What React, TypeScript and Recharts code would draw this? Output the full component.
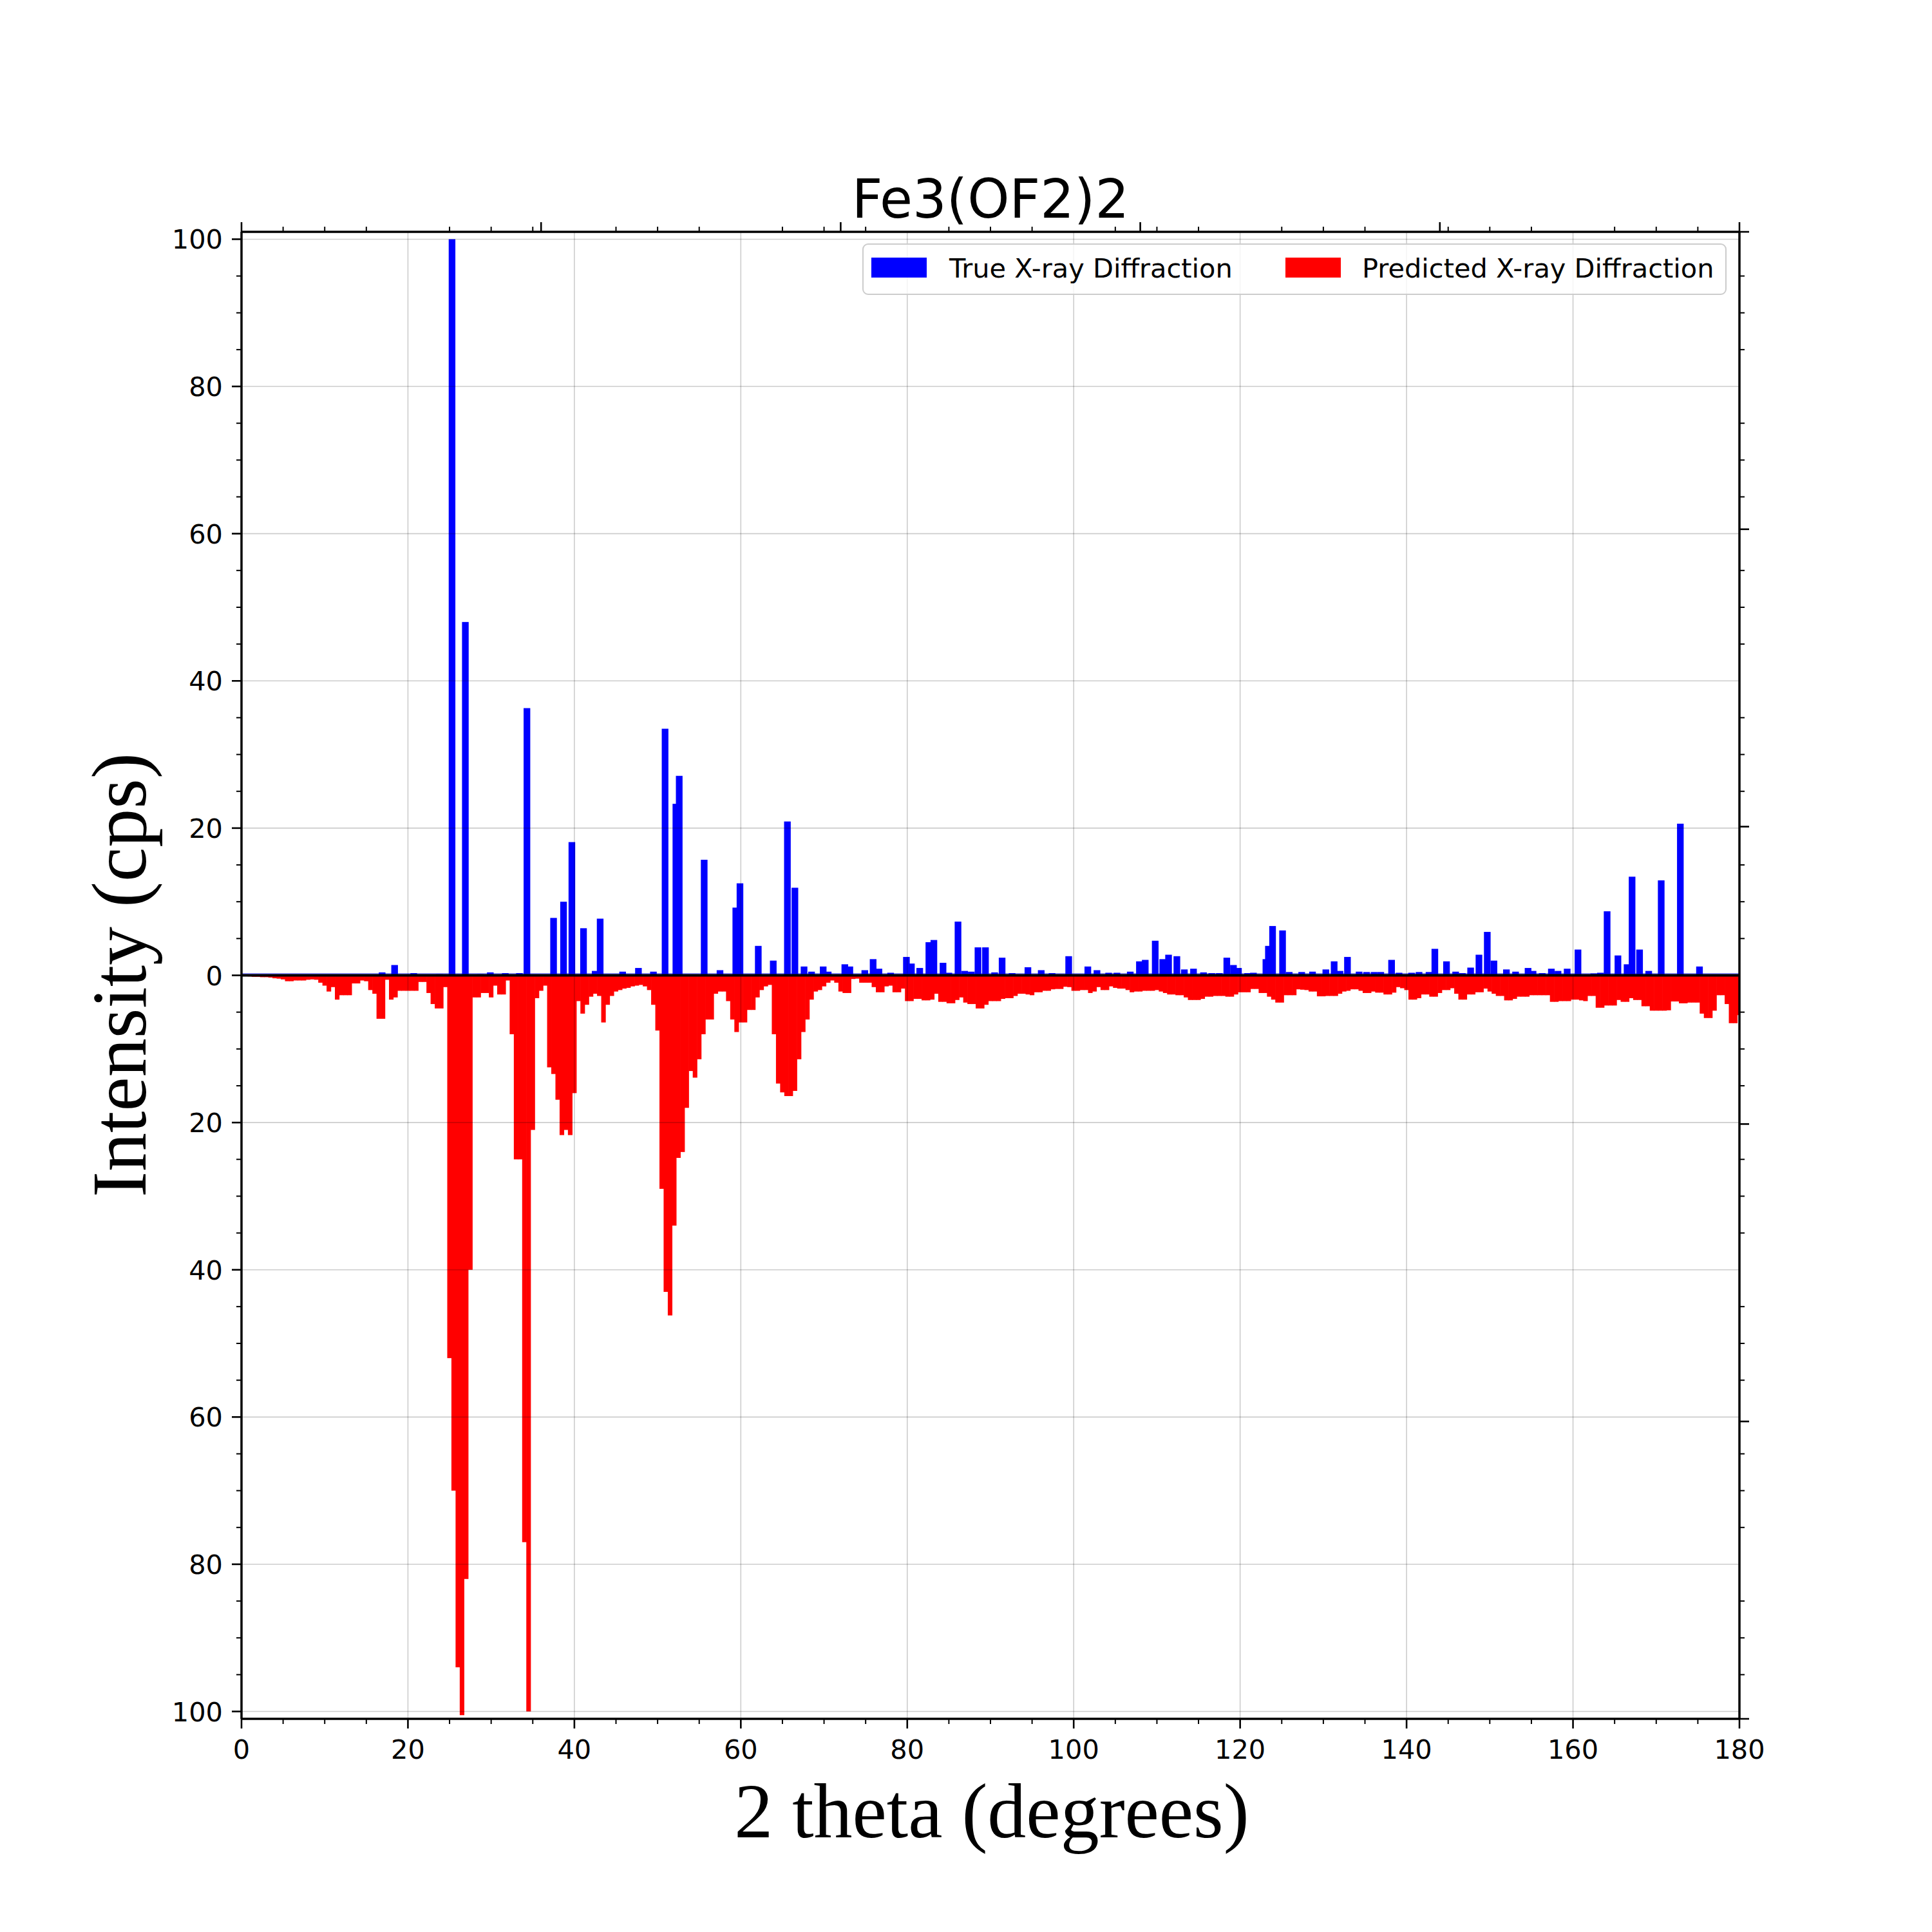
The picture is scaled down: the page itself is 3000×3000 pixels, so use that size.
import React from "react";
import { BarChart, Bar, XAxis, YAxis, ReferenceLine } from "recharts";

// predicted pattern, read every 0.5 degree from 0 to 180 (drawn downwards)
const predictedStart = 0;
const predictedStep = 0.5;
const predicted = [
  0.1, 0.1, 0.15, 0.2, 0.2, 0.25, 0.25, 0.3, 0.4, 0.45, // 0
  0.55, 0.8, 0.8, 0.7, 0.7, 0.7, 0.6, 0.55, 0.6, 1.0, // 5
  1.4, 2.2, 1.6, 3.3, 2.7, 2.7, 2.7, 1.1, 1.1, 0.7, // 10
  0.8, 2.0, 2.5, 5.9, 5.9, 0.6, 3.3, 3.0, 2.1, 2.1, // 15
  2.1, 2.1, 2.1, 0.9, 0.9, 2.4, 3.9, 4.5, 4.5, 1.6, // 20
  52, 70, 94, 100.5, 82, 40, 3.0, 3.0, 2.4, 2.4, // 25
  3.0, 1.4, 2.6, 2.6, 0.7, 8, 25, 25, 77, 100, // 30
  21, 3.1, 2.1, 1.4, 12.5, 13.4, 16.9, 21.7, 21, 21.7, // 35
  16, 3.5, 5.2, 4, 2.9, 2.5, 2.8, 6.4, 4.0, 2.8, // 40
  2.2, 2.0, 1.8, 1.7, 1.5, 1.4, 1.3, 1.5, 2.0, 4.0, // 45
  7.5, 29, 43, 46.2, 34, 24.8, 24, 18, 13, 13.9, // 50
  11.4, 8, 6, 6, 2.5, 2.2, 2.2, 3.5, 6, 7.7, // 55
  6.4, 6.4, 4.7, 4.7, 3.0, 2.0, 1.5, 1.3, 8, 14.7, // 60
  15.9, 16.4, 16.4, 15.7, 11.4, 7.7, 6, 3.3, 2.2, 2.0, // 65
  1.5, 1.0, 0.7, 1.0, 2.2, 2.4, 2.4, 0.5, 0.45, 1.0, // 70
  1.0, 1.0, 1.6, 2.3, 2.3, 1.5, 1.4, 2.3, 2.3, 1.8, // 75
  3.5, 3.5, 3.2, 3.2, 3.4, 3.4, 3.3, 2.5, 3.6, 3.6, // 80
  3.8, 3.8, 3.35, 3.0, 3.7, 3.9, 3.9, 4.5, 4.5, 4.0, // 85
  3.5, 3.5, 3.5, 3.2, 3.1, 3.1, 2.8, 2.5, 2.5, 2.6, // 90
  2.7, 2.3, 2.3, 2.1, 2.1, 1.9, 1.85, 1.85, 1.55, 1.6, // 95
  2.1, 2.1, 2.0, 2.0, 2.4, 2.2, 1.6, 2.0, 2.0, 1.5, // 100
  1.7, 1.8, 1.8, 2.0, 2.3, 2.2, 2.2, 2.1, 2.1, 2.1, // 105
  2.0, 2.2, 2.4, 2.6, 2.6, 2.7, 2.7, 3.0, 3.35, 3.35, // 110
  3.35, 3.2, 2.9, 2.9, 2.8, 2.8, 2.8, 2.9, 2.9, 2.6, // 115
  2.3, 2.3, 2.3, 1.85, 1.85, 2.4, 2.4, 2.9, 3.3, 3.7, // 120
  3.7, 2.7, 2.7, 2.7, 1.9, 1.95, 2.0, 2.2, 2.2, 2.85, // 125
  2.85, 2.8, 2.8, 2.8, 2.5, 2.2, 2.1, 1.9, 1.9, 2.1, // 130
  2.4, 2.4, 2.2, 2.35, 2.35, 2.6, 2.6, 2.35, 1.6, 1.75, // 135
  2.0, 3.3, 3.3, 3.1, 2.6, 2.6, 2.9, 2.9, 2.4, 2.0, // 140
  2.0, 1.75, 2.5, 3.3, 3.3, 2.6, 2.6, 2.3, 2.3, 1.8, // 145
  2.2, 2.5, 2.8, 2.8, 3.4, 3.4, 3.2, 2.9, 2.9, 2.9, // 150
  2.7, 2.7, 2.7, 2.7, 2.7, 3.6, 3.6, 3.5, 3.5, 3.5, // 155
  3.3, 3.3, 3.4, 3.5, 2.8, 2.8, 4.4, 4.4, 4.1, 4.1, // 160
  4.1, 3.35, 3.6, 3.6, 3.1, 3.35, 3.35, 4.2, 4.2, 4.8, // 165
  4.8, 4.8, 4.8, 4.75, 3.55, 3.55, 3.8, 3.8, 3.7, 3.7, // 170
  3.7, 5.2, 5.8, 5.8, 4.8, 2.7, 2.7, 3.9, 6.5, 6.5, // 175
  5.4, // 180
];

// measured peaks (2 theta, intensity)
const trueAngles = [
  16.9, 18.4, 19.3, 20.7, 23.8, 25.3, 26.9, 28.7, 29.9, 31.7,
  33.4, 34.3, 37.5, 38.7, 39.7, 41.1, 42.5, 43.1, 45.8, 47.7,
  49.5, 50.9, 52.2, 52.6, 55.6, 57.5, 59.4, 59.9, 62.1, 63.9,
  65.6, 66.5, 67.6, 68.5, 69.9, 70.5, 72.5, 73.1, 74.9, 75.9,
  76.6, 78.0, 79.9, 80.5, 81.5, 82.6, 83.2, 84.3, 85.0, 86.1,
  86.9, 87.7, 88.5, 89.4, 90.5, 91.4, 92.6, 94.5, 96.1, 97.4,
  99.4, 101.7, 102.8, 104.2, 105.2, 106.8, 107.9, 108.6, 109.8, 110.7,
  111.4, 112.4, 113.3, 114.4, 115.6, 116.6, 117.5, 118.4, 119.2, 119.8,
  120.9, 121.6, 123.1, 123.4, 123.9, 125.1, 125.9, 127.4, 128.7, 130.3,
  131.3, 132.0, 132.9, 134.3, 135.2, 136.1, 136.9, 138.2, 139.1, 140.6,
  141.5, 142.7, 143.4, 144.8, 145.9, 146.7, 147.7, 148.7, 149.7, 150.5,
  152.0, 153.1, 154.6, 155.2, 156.3, 157.4, 158.2, 159.3, 160.6, 162.5,
  163.3, 164.1, 165.4, 166.5, 167.1, 168.0, 169.1, 170.6, 172.9, 175.2,
];
const trueIntensity = [
  0.4, 1.4, 0.1, 0.3, 0.15, 100, 48.0, 0.15, 0.4, 0.3,
  0.3, 36.3, 7.8, 10.0, 18.1, 6.4, 0.6, 7.7, 0.5, 1.0,
  0.5, 33.5, 23.3, 27.1, 15.7, 0.7, 9.2, 12.5, 4.0, 2.0,
  20.9, 11.9, 1.2, 0.5, 1.2, 0.5, 1.5, 1.2, 0.7, 2.2,
  0.9, 0.35, 2.5, 1.6, 1.0, 4.5, 4.8, 1.7, 0.35, 7.3,
  0.6, 0.5, 3.8, 3.8, 0.4, 2.4, 0.3, 1.1, 0.7, 0.3,
  2.6, 1.2, 0.7, 0.35, 0.35, 0.5, 1.9, 2.1, 4.7, 2.2,
  2.8, 2.6, 0.8, 0.9, 0.4, 0.3, 0.3, 2.4, 1.4, 1.0,
  0.3, 0.35, 2.2, 4.0, 6.7, 6.1, 0.45, 0.45, 0.5, 0.8,
  1.9, 0.6, 2.5, 0.5, 0.45, 0.45, 0.45, 2.1, 0.35, 0.35,
  0.45, 0.45, 3.6, 1.9, 0.5, 0.3, 1.05, 2.8, 5.9, 2.0,
  0.8, 0.5, 1.0, 0.6, 0.3, 0.9, 0.6, 0.9, 3.5, 0.25,
  0.35, 8.7, 2.7, 1.5, 13.4, 3.5, 0.6, 12.9, 20.6, 1.2,
];

const xMajorTicks = [0, 20, 40, 60, 80, 100, 120, 140, 160, 180];
const yMajorTicks = [-100, -80, -60, -40, -20, 0, 20, 40, 60, 80, 100];
// secondary (twin) axis ticks seen on the top and right spines
const topTwinTicks = [0, 36, 72, 108, 144, 180];
const rightTwinTicks = [-101, -60.6, -20.2, 20.2, 60.6, 101];

const W = 3000;
const H = 3000;
// plot box: left 375, right 2701, top 360, bottom 2669 (axes take 1px each)
const M = { top: 359, right: 298, bottom: 330, left: 374 };
const PX_PER_DEG = (2701 - 375) / 180;
const FONT = "DejaVu Sans";
const SERIF = "Liberation Serif, Times New Roman, serif";
const TICK_FS = 41.5;

const fives = (lo: number, hi: number) => {
  const out: number[] = [];
  for (let v = lo; v <= hi; v += 5) out.push(v);
  return out;
};
const xMinor = fives(0, 180).filter((v) => v % 20 !== 0);
const yMinor = fives(-100, 100).filter((v) => v % 20 !== 0);
const bottomTicks = [...xMajorTicks, ...xMinor].sort((a, b) => a - b);
const leftTicks = [...yMajorTicks, ...yMinor].sort((a, b) => a - b);
const topTicks = Array.from(new Set([...topTwinTicks, ...xMinor])).sort((a, b) => a - b);
const rightTicks = [...rightTwinTicks, ...yMinor].sort((a, b) => a - b);

// rows keyed by angle (0.1 degree) holding both series
const rowMap = new Map<number, { x: number; pred?: number; obs?: number }>();
const rowAt = (x: number) => {
  const k = Math.round(x * 10);
  if (!rowMap.has(k)) rowMap.set(k, { x: k / 10 });
  return rowMap.get(k)!;
};
predicted.forEach((v, i) => {
  rowAt(predictedStart + i * predictedStep).pred = -v;
});
trueAngles.forEach((a, i) => {
  rowAt(a).obs = trueIntensity[i];
});
const data = Array.from(rowMap.values()).sort((a, b) => a.x - b.x);

const makeShape = (degWidth: number, color: string) => (p: any) => {
  const { x, y, width, height } = p;
  if (height == null || Math.abs(height) < 0.01 || x == null) return <g />;
  const cx = x + width / 2;
  const w = PX_PER_DEG * degWidth;
  const top = Math.min(y, y + height);
  return <rect x={cx - w / 2} y={top} width={w} height={Math.abs(height)} fill={color} />;
};
const redShape = makeShape(0.5 + 0.05, "#ff0000");
const blueShape = makeShape(0.8, "#0000ff");

const BottomTick = ({ x, y, payload }: any) => {
  const v = payload.value;
  const major = xMajorTicks.includes(v);
  return (
    <g>
      <line x1={x} x2={x} y1={y} y2={y + (major ? 15 : 8)} stroke="#000" strokeWidth={major ? 2.6 : 2} />
      {major && (
        <text x={x} y={y + 62} textAnchor="middle" fontSize={TICK_FS} fontFamily={FONT} fill="#000">
          {v}
        </text>
      )}
    </g>
  );
};

const LeftTick = ({ x, y, payload }: any) => {
  const v = payload.value;
  const major = yMajorTicks.includes(v);
  return (
    <g>
      <line x1={x} x2={x - (major ? 15 : 8)} y1={y} y2={y} stroke="#000" strokeWidth={major ? 2.6 : 2} />
      {major && (
        <text x={x - 29} y={y + 15} textAnchor="end" fontSize={TICK_FS} fontFamily={FONT} fill="#000">
          {Math.abs(v)}
        </text>
      )}
    </g>
  );
};

const TopTick = ({ x, y, payload }: any) => {
  const major = topTwinTicks.includes(payload.value);
  return <line x1={x} x2={x} y1={y} y2={y - (major ? 15 : 8)} stroke="#000" strokeWidth={major ? 2.6 : 2} />;
};

const RightTick = ({ x, y, payload }: any) => {
  const major = rightTwinTicks.includes(payload.value);
  return <line x1={x} x2={x + (major ? 15 : 8)} y1={y} y2={y} stroke="#000" strokeWidth={major ? 2.6 : 2} />;
};

const spine = { stroke: "#000", strokeWidth: 3.5 };
const gridX = [20, 40, 60, 80, 100, 120, 140, 160];
const gridY = [-100, -80, -60, -40, -20, 20, 40, 60, 80, 100];

export default function App() {
  return (
    <div style={{ position: "absolute", left: 0, top: 0, width: W, height: H, background: "#fff" }}>
      <BarChart width={W} height={H} data={data} margin={M} stackOffset="sign">
        <XAxis
          xAxisId="x"
          dataKey="x"
          type="number"
          domain={[0, 180]}
          allowDataOverflow
          ticks={bottomTicks}
          interval={0}
          height={1}
          tickSize={0}
          tickMargin={0}
          tickLine={false}
          axisLine={spine}
          tick={<BottomTick />}
        />
        <XAxis
          xAxisId="top"
          dataKey="x"
          orientation="top"
          type="number"
          domain={[0, 180]}
          allowDataOverflow
          ticks={topTicks}
          interval={0}
          height={1}
          tickSize={0}
          tickMargin={0}
          tickLine={false}
          axisLine={spine}
          tick={<TopTick />}
        />
        <YAxis
          yAxisId="y"
          type="number"
          domain={[-101, 101]}
          allowDataOverflow
          ticks={leftTicks}
          interval={0}
          width={1}
          tickSize={0}
          tickMargin={0}
          tickLine={false}
          axisLine={spine}
          tick={<LeftTick />}
        />
        <YAxis
          yAxisId="right"
          orientation="right"
          type="number"
          domain={[-101, 101]}
          allowDataOverflow
          ticks={rightTicks}
          interval={0}
          width={1}
          tickSize={0}
          tickMargin={0}
          tickLine={false}
          axisLine={spine}
          tick={<RightTick />}
        />
        <Bar
          xAxisId="x"
          yAxisId="y"
          dataKey="pred"
          stackId="s"
          fill="#ff0000"
          shape={redShape}
          isAnimationActive={false}
        />
        <Bar
          xAxisId="x"
          yAxisId="y"
          dataKey="obs"
          stackId="s"
          fill="#0000ff"
          shape={blueShape}
          isAnimationActive={false}
        />
        {gridX.map((v) => (
          <ReferenceLine key={"gx" + v} xAxisId="x" yAxisId="y" x={v} stroke="#000" strokeOpacity={0.2} strokeWidth={1.6} />
        ))}
        {gridY.map((v) => (
          <ReferenceLine key={"gy" + v} xAxisId="x" yAxisId="y" y={v} stroke="#000" strokeOpacity={0.2} strokeWidth={1.6} />
        ))}
        <ReferenceLine xAxisId="x" yAxisId="y" y={0.22} stroke="#0000ff" strokeOpacity={0.6} strokeWidth={1.3} />
        <ReferenceLine xAxisId="x" yAxisId="y" y={0} stroke="#000" strokeWidth={4} />
      </BarChart>
      <svg width={W} height={H} style={{ position: "absolute", left: 0, top: 0, pointerEvents: "none" }}>
        <text x={1538} y={338} textAnchor="middle" fontSize={83} fontFamily={FONT} fill="#000">
          Fe3(OF2)2
        </text>
        <text x={1540} y={2853} textAnchor="middle" fontSize={120} fontFamily={SERIF} fill="#000">
          2 theta (degrees)
        </text>
        <text
          x={226}
          y={1514}
          transform="rotate(-90 226 1514)"
          textAnchor="middle"
          fontSize={120}
          fontFamily={SERIF}
          fill="#000"
        >
          Intensity (cps)
        </text>
        <g>
          <rect x={1340} y={379} width={1340} height={78} rx={8} fill="#fff" fillOpacity={0.8} stroke="#cccccc" strokeWidth={2} />
          <rect x={1353} y={400} width={86} height={31} fill="#0000ff" />
          <text x={1474} y={431} fontSize={TICK_FS} fontFamily={FONT} fill="#000">
            True X-ray Diffraction
          </text>
          <rect x={1996} y={400} width={86} height={31} fill="#ff0000" />
          <text x={2115} y={431} fontSize={TICK_FS} fontFamily={FONT} fill="#000">
            Predicted X-ray Diffraction
          </text>
        </g>
      </svg>
    </div>
  );
}
